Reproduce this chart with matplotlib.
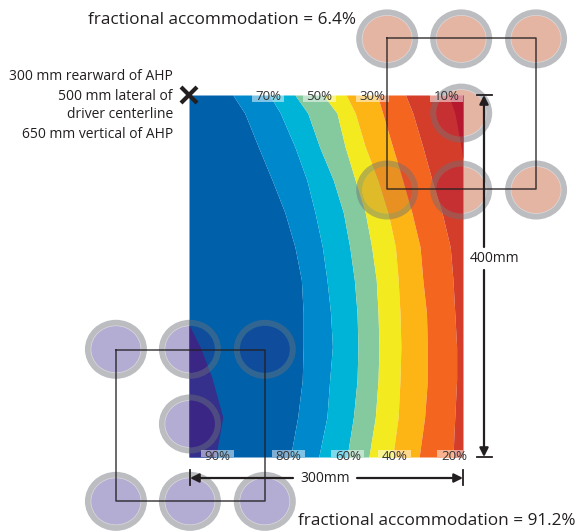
import numpy as np
import matplotlib
matplotlib.use("Agg")
import matplotlib.pyplot as plt
from matplotlib.patches import Ellipse, Rectangle
from matplotlib.path import Path

plt.rcParams['font.family'] = ['Open Sans', 'DejaVu Sans']

# contour boundaries, mm from the seat reference corner
depth = [0, 20, 57.5, 94, 130, 168, 204, 241, 278, 315, 356, 400]
bound_70 = [48, 61, 76, 91, 105, 116, 123, 125, 125, 124, 119, 111]
bound_60 = [88, 100, 116, 129, 138, 146, 151, 155, 157, 154, 151, 142]
bound_50 = [116, 130, 143, 158, 169, 176, 181, 184, 185, 184, 180, 173]
bound_40 = [147, 162, 171, 182, 193, 200, 205, 207, 208, 207, 204, 197]
bound_30 = [172, 182, 193, 207, 218, 226, 229, 231, 232, 231, 229, 223]
bound_20 = [206, 212, 223, 234, 244, 253, 256, 260, 261, 261, 258, 252]
bound_10 = [237, 245, 256, 266, 277, 286, 289, 291, 293, 293, 291, 289]
bound_0 = [284, 291, 298, 300]
bound_90 = [0, 12, 25, 37, 30, 29]
depth_90 = [254, 278, 312, 356, 396, 400]

band_colors = ['#0060AA', '#0088CC', '#00B4D8', '#85CA9E', '#F3EA1F',
               '#FDB515', '#F46520', '#D43D2A']
top_labels = ['70%', '50%', '30%', '10%']
top_pos = [86.5, 143, 201, 282]
bottom_labels = ['90%', '80%', '60%', '40%', '20%']
bottom_pos = [31, 109, 174, 225, 290]

# head positions, mm
small_x = [-80, 1, 83, -80, 1, 83, 1]
small_y = [449, 449, 449, 281, 281, 281, 363.5]
tall_x = [217, 298, 380, 217, 298, 380, 298]
tall_y = [-62, -62, -62, 105, 105, 105, 20]

W, H = 577, 531
sx, sy = 274 / 300, 362 / 400

fig = plt.figure(figsize=(W / 100, H / 100), dpi=100)
ax = fig.add_axes([0, 0, 1, 1])
ax.set_xlim(-189 / sx, (W - 189) / sx)
ax.set_ylim((H - 95) / sy, -95 / sy)
ax.axis('off')

def heads(xs, ys, fill):
    for x, y in zip(xs, ys):
        ax.add_patch(Ellipse((x, y), 62 / sx, 59 / sy, fc='#BBBDC0', ec='none', zorder=1))
        ax.add_patch(Ellipse((x, y), 50 / sx, 47 / sy, fc=fill, ec='#DDDADD', lw=0.5, zorder=1.1))

heads(small_x, small_y, '#B3ACD3')
heads(tall_x, tall_y, '#E5B5A3')

# filled accommodation bands
edges = [np.zeros(len(depth)), bound_70, bound_60, bound_50, bound_40, bound_30, bound_20, bound_10,
         np.full(len(depth), 300)]
for i, c in enumerate(band_colors):
    ax.fill_betweenx(depth, edges[i], edges[i + 1], color=c, lw=0, zorder=2)
ax.fill_betweenx(depth[:3] + [72], bound_0, 300, color='#BE2026', lw=0, zorder=2.1)
ax.fill_betweenx(depth_90, 0, bound_90, color='#35308C', lw=0, zorder=2.1)

field = Path([(0, 0), (300, 0), (300, 400), (0, 400), (0, 0)], closed=True)

def overlay(xs, ys, tint):
    for x, y in zip(xs, ys):
        inner = Ellipse((x, y), 50 / sx, 47 / sy, fc=tint, ec='none', alpha=0.2, zorder=3)
        ring = Ellipse((x, y), 56 / sx, 53 / sy, fc='none', ec='#6E6E78', lw=4.3, alpha=0.45, zorder=3)
        for p in (inner, ring):
            ax.add_patch(p)
            p.set_clip_path(field, ax.transData)

overlay(small_x, small_y, '#500064')
overlay(tall_x, tall_y, '#960055')

# percent labels on translucent strips
for lab, x in zip(top_labels, top_pos):
    r = Rectangle((x - 18, 0), 36, 8, fc='white', ec='none', alpha=0.5, zorder=4)
    ax.add_patch(r)
    r.set_clip_path(field, ax.transData)
    ax.text(x, 1.5, lab, ha='center', va='center', fontsize=9.5, color='#333333', zorder=5)
for lab, x in zip(bottom_labels, bottom_pos):
    r = Rectangle((x - 18, 392), 36, 8, fc='white', ec='none', alpha=0.5, zorder=4)
    ax.add_patch(r)
    r.set_clip_path(field, ax.transData)
    ax.text(x, 400, lab, ha='center', va='center', fontsize=9.5, color='#333333', zorder=5)

# overlay axes in picture pixels for the annotations
an = fig.add_axes([0, 0, 1, 1])
an.set_xlim(0, W)
an.set_ylim(H, 0)
an.axis('off')
an.patch.set_alpha(0)

dark = '#231F20'
for x0, x1, y0, y1 in [(387, 536, 38, 189), (116, 265, 350, 501)]:
    an.plot([x0, x1, x1, x0, x0], [y0, y0, y1, y1, y0], color=dark, lw=1.1, alpha=0.85)

# dimension arrows
arrow = dict(arrowstyle='-|>', color=dark, lw=1.6, shrinkA=0, shrinkB=0, mutation_scale=13)
an.plot([190, 190], [470, 485], color=dark, lw=1.3)
an.plot([463, 463], [470, 485], color=dark, lw=1.3)
an.annotate('', xy=(190, 478), xytext=(293, 478), arrowprops=arrow)
an.annotate('', xy=(463, 478), xytext=(357, 478), arrowprops=arrow)
an.plot([477, 492], [95, 95], color=dark, lw=1.3)
an.plot([477, 492], [457, 457], color=dark, lw=1.3)
an.annotate('', xy=(484, 95), xytext=(484, 247), arrowprops=arrow)
an.annotate('', xy=(484, 457), xytext=(484, 270), arrowprops=arrow)

an.text(325, 478, '300mm', ha='center', va='center', fontsize=10, color=dark)
an.text(495, 259, '400mm', ha='center', va='center', fontsize=10, color=dark)
an.plot([189], [95], marker='x', ms=12, mew=3, color=dark, clip_on=False)

for y, line in zip([77, 96, 115, 134], ['300 mm rearward of AHP', '500 mm lateral of',
                                        'driver centerline', '650 mm vertical of AHP']):
    an.text(173, y, line, ha='right', va='center', fontsize=10, color=dark)
an.text(88, 20, 'fractional accommodation = 6.4%', ha='left', va='center', fontsize=12.3, color=dark)
an.text(576, 521, 'fractional accommodation = 91.2%', ha='right', va='center', fontsize=12.3, color=dark)

fig.savefig('out.png', dpi=100)
